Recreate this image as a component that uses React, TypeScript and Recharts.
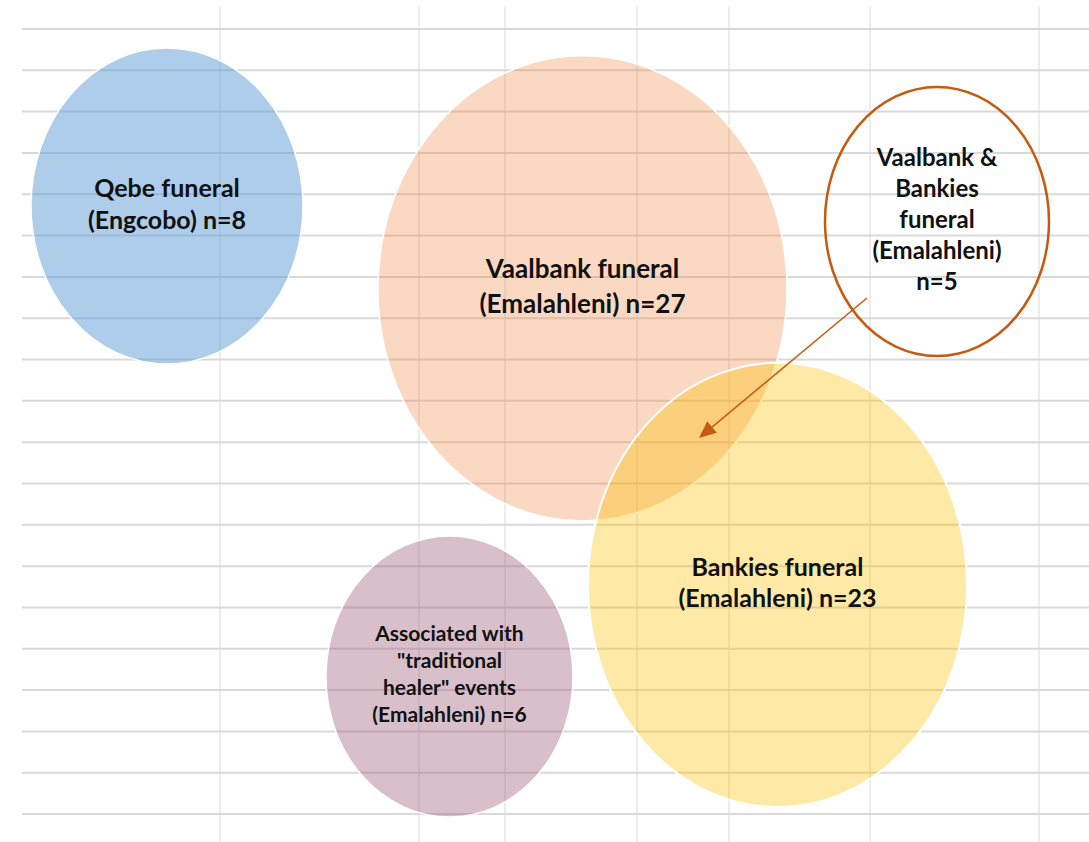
import React from "react";
import {
  ComposedChart,
  XAxis,
  YAxis,
  CartesianGrid,
  ReferenceArea,
  ReferenceLine,
  Scatter,
} from "recharts";

// Diagram coordinates: x in sheet units, y in sheet rows (row 1 = top grid line)
const columnLines = [220, 419, 505, 637, 729, 870, 1039];
const rowLines = [1, 2, 3, 4, 5, 6, 7, 8, 9, 10, 11, 12, 13, 14, 15, 16, 17, 18, 19, 20];
const xDomain = [22, 1089];
const yDomain = [0.468, 20.676];

const clusterNames = ["Qebe", "Vaalbank", "Bankies", "Healer", "Both"];
const clusterLabels = [
  ["Qebe funeral", "(Engcobo) n=8"],
  ["Vaalbank funeral", "(Emalahleni) n=27"],
  ["Bankies funeral", "(Emalahleni) n=23"],
  ["Associated with", "\"traditional", "healer\" events", "(Emalahleni) n=6"],
  ["Vaalbank &", "Bankies", "funeral", "(Emalahleni)", "n=5"],
];
const clusterX1 = [31, 378, 588, 326, 825];
const clusterX2 = [303, 787, 967, 573, 1049];
const clusterY1 = [1.46, 1.65, 9.08, 13.27, 2.404];
const clusterY2 = [9.107, 12.907, 19.829, 20.07, 8.914];

const arrowFrom = { x: 867, y: 7.51 };
const arrowTo = { x: 699, y: 10.898 };

const styles = [
  { fill: "#5B9BD5", opacity: 0.5, stroke: "#ffffff", sw: 1.5, fs: 25, lh: 32, cap: 18 },
  { fill: "#ED7D31", opacity: 0.3, stroke: "#ffffff", sw: 1.5, fs: 26, lh: 35, cap: 19 },
  { fill: "#FFC000", opacity: 0.35, stroke: "#ffffff", sw: 2, fs: 25, lh: 31, cap: 18 },
  { fill: "#A05F78", opacity: 0.4, stroke: "#ffffff", sw: 1.5, fs: 21, lh: 27, cap: 15 },
  { fill: "none", opacity: 1, stroke: "#C55A11", sw: 2.5, fs: 24, lh: 31, cap: 17 },
];

const FONT = "Lato, 'Open Sans', sans-serif";

function makeEllipse(i: number) {
  return (p: any) => {
    const s = styles[i];
    const cx = p.x + p.width / 2;
    const cy = p.y + p.height / 2;
    return (
      <ellipse
        cx={cx}
        cy={cy}
        rx={p.width / 2}
        ry={p.height / 2}
        fill={s.fill}
        fillOpacity={s.opacity}
        stroke={s.stroke}
        strokeWidth={s.sw}
      />
    );
  };
}

function makeLabel(i: number) {
  return (p: any) => {
    const s = styles[i];
    const lines = clusterLabels[i];
    const cx = p.x + p.width / 2;
    const cy = p.y + p.height / 2;
    const total = (lines.length - 1) * s.lh + s.cap;
    const first = cy - total / 2 + s.cap - 2;
    return (
      <g>
        {lines.map((t, k) => (
          <text
            key={k}
            x={cx}
            y={first + k * s.lh}
            textAnchor="middle"
            fontFamily={FONT}
            fontWeight={700}
            fontSize={s.fs}
            fill="#111111"
          >
            {t}
          </text>
        ))}
      </g>
    );
  };
}

function arrowShape(p: any) {
  const { x1, y1, x2, y2 } = p;
  const ang = Math.atan2(y2 - y1, x2 - x1);
  const len = 17;
  const hw = 7.5;
  const bx = x2 - len * Math.cos(ang);
  const by = y2 - len * Math.sin(ang);
  const nx = -Math.sin(ang);
  const ny = Math.cos(ang);
  return (
    <g>
      <line x1={x1} y1={y1} x2={bx} y2={by} stroke="#C55A11" strokeWidth={1.5} />
      <polygon
        points={`${x2},${y2} ${bx + nx * hw},${by + ny * hw} ${bx - nx * hw},${by - ny * hw}`}
        fill="#C55A11"
      />
    </g>
  );
}

function mapLinear(v: number, d: number[], a: number, b: number) {
  return a + ((v - d[0]) / (d[1] - d[0])) * (b - a);
}

function horizontalGen(props: any) {
  const sc = props?.yAxis?.scale;
  if (typeof sc === "function") return rowLines.map((r) => sc(r));
  const o = props.offset;
  return rowLines.map((r) => mapLinear(r, yDomain, o.top, o.top + o.height));
}

function verticalGen(props: any) {
  const sc = props?.xAxis?.scale;
  if (typeof sc === "function") return columnLines.map((c) => sc(c));
  const o = props.offset;
  return columnLines.map((c) => mapLinear(c, xDomain, o.left, o.left + o.width));
}

export default function App() {
  return (
    <div style={{ position: "absolute", left: 0, top: 0, background: "#fff" }}>
      <ComposedChart
        width={1089}
        height={842}
        margin={{ top: 7, right: 0, bottom: 0, left: 22 }}
      >
        <XAxis
          type="number"
          dataKey="x"
          domain={xDomain}
          ticks={columnLines}
          allowDataOverflow
          hide
        />
        <YAxis
          type="number"
          dataKey="y"
          domain={yDomain}
          ticks={rowLines}
          reversed
          allowDataOverflow
          hide
        />
        <CartesianGrid
          stroke="#d9d9d9"
          horizontal={false}
          strokeWidth={1}
          verticalCoordinatesGenerator={verticalGen}
        />
        <CartesianGrid
          stroke="#d9d9d9"
          vertical={false}
          strokeWidth={2}
          horizontalCoordinatesGenerator={horizontalGen}
        />
        <Scatter data={[]} isAnimationActive={false} />
        {clusterNames.map((n, i) => (
          <ReferenceArea
            key={n}
            x1={clusterX1[i]}
            x2={clusterX2[i]}
            y1={clusterY1[i]}
            y2={clusterY2[i]}
            shape={makeEllipse(i)}
          />
        ))}
        <ReferenceLine segment={[arrowFrom, arrowTo]} shape={arrowShape} />
        {clusterNames.map((n, i) => (
          <ReferenceArea
            key={n + "-label"}
            x1={clusterX1[i]}
            x2={clusterX2[i]}
            y1={clusterY1[i]}
            y2={clusterY2[i]}
            shape={makeLabel(i)}
          />
        ))}
      </ComposedChart>
    </div>
  );
}
